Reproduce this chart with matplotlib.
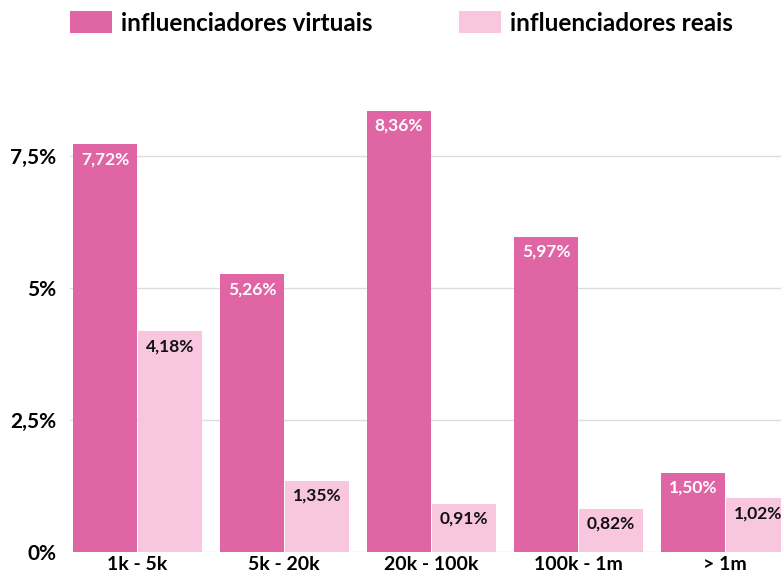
import numpy as np
import matplotlib.pyplot as plt

categorias = ['1k - 5k', '5k - 20k', '20k - 100k', '100k - 1m', '> 1m']
virtuais = [7.72, 5.26, 8.36, 5.97, 1.50]
reais = [4.18, 1.35, 0.91, 0.82, 1.02]
rotulos_y = ['0%', '2,5%', '5%', '7,5%']
ticks_y = [0, 2.5, 5, 7.5]

cor_virtual = '#E065A5'
cor_real = '#F8C6DF'

plt.rcParams['font.family'] = ['Lato', 'DejaVu Sans']

fig = plt.figure(figsize=(7.81, 5.78), dpi=100)
ax = fig.add_axes([70 / 781, 26 / 578, 711 / 781, 492 / 578])

x = np.arange(len(categorias))
w = 0.435

b1 = ax.bar(x - w / 2, virtuais, w, color=cor_virtual, zorder=2,
            label='influenciadores virtuais')
b2 = ax.bar(x + w / 2 + 0.005, reais, w, color=cor_real, zorder=2,
            label='influenciadores reais')

# rótulos de valor dentro das barras
for bar, v in zip(b1, virtuais):
    ax.annotate(f'{v:.2f}%'.replace('.', ','),
                (bar.get_x() + bar.get_width() / 2, v),
                xytext=(0, -5), textcoords='offset points',
                ha='center', va='top', color='white',
                fontsize=12.5, fontweight='bold')
for bar, v in zip(b2, reais):
    ax.annotate(f'{v:.2f}%'.replace('.', ','),
                (bar.get_x() + bar.get_width() / 2, v),
                xytext=(0, -5), textcoords='offset points',
                ha='center', va='top', color='#111111',
                fontsize=12.5, fontweight='bold')

ax.set_xlim(-0.456, 4.381)
ax.set_ylim(0, 9.32)
ax.set_yticks(ticks_y)
ax.set_yticklabels(rotulos_y, fontsize=15, fontweight='bold')
ax.set_xticks(x)
ax.set_xticklabels(categorias, fontsize=14, fontweight='bold')
ax.tick_params(length=0)
ax.tick_params(axis='y', pad=10)
ax.tick_params(axis='x', pad=3)
ax.grid(axis='y', color='#dddddd', lw=1, zorder=0)
for s in ax.spines.values():
    s.set_visible(False)

fig.legend(handles=[b1, b2], loc='upper left', bbox_to_anchor=(48 / 781, 1.018),
           ncol=2, frameon=False, prop={'size': 17.5, 'weight': 'bold'},
           handlelength=1.75, handleheight=1.0, handletextpad=0.35,
           columnspacing=3.55)

fig.savefig('out.png', dpi=100)
